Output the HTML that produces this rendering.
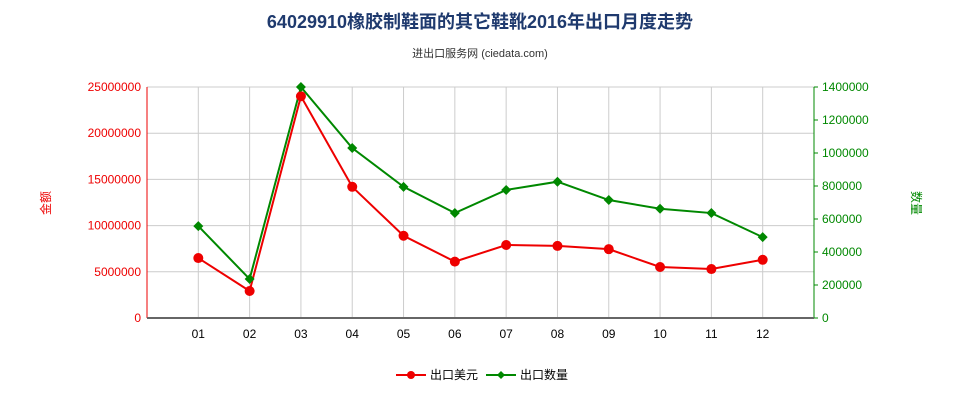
<!DOCTYPE html>
<html><head><meta charset="utf-8"><style>
body{margin:0;background:#fff;font-family:"Liberation Sans","Noto Sans CJK SC",sans-serif}
</style></head><body>
<svg width="960" height="400" xmlns="http://www.w3.org/2000/svg" font-family="Liberation Sans, Noto Sans CJK SC, sans-serif">
<text x="480" y="28" text-anchor="middle" font-size="18" font-weight="bold" fill="#1f3a6e">64029910橡胶制鞋面的其它鞋靴2016年出口月度走势</text>
<text x="480" y="57" text-anchor="middle" font-size="11" fill="#333">进出口服务网 (ciedata.com)</text>
<g id="grid"></g>
<g id="axes"></g>
<g id="series"></g>
<text x="50" y="203" text-anchor="middle" font-size="12" fill="#e00" transform="rotate(-90 50 203)">金额</text>
<text x="912" y="203" text-anchor="middle" font-size="12" fill="#080" transform="rotate(90 912 203)">数量</text>
<g>
<g><line x1="396" y1="375" x2="426" y2="375" stroke="#e00" stroke-width="2"/><circle cx="411" cy="375" r="4" fill="#e00"/><text x="430" y="379" font-size="12" fill="#000">出口美元</text></g>
<g><line x1="486" y1="375" x2="516" y2="375" stroke="#080" stroke-width="2"/><path d="M501 371 L505 375 L501 379 L497 375Z" fill="#080"/><text x="520" y="379" font-size="12" fill="#000">出口数量</text></g>
</g>
</svg>
<script>
const categories=["01","02","03","04","05","06","07","08","09","10","11","12"];
const usdValues=[6490000,2920000,24000000,14200000,8900000,6100000,7900000,7800000,7450000,5520000,5300000,6300000];
const qtyValues=[557000,236000,1400000,1030000,795000,636000,776000,826000,715000,662000,636000,490000];
const leftTicks=[0,5000000,10000000,15000000,20000000,25000000];
const rightTicks=[0,200000,400000,600000,800000,1000000,1200000,1400000];
const NS="http://www.w3.org/2000/svg";
const L=147,R=814,T=87,B=318,step=(R-L)/13;
const xs=i=>L+(i+1)*step;
const yl=v=>B-v/25000000*(B-T);
const yr=v=>B-v/1400000*(B-T);
function mk(tag,attrs,parent,text){const e=document.createElementNS(NS,tag);for(const k in attrs)e.setAttribute(k,attrs[k]);if(text!==undefined)e.textContent=text;document.getElementById(parent).appendChild(e);return e;}
leftTicks.forEach(v=>{
 const g=mk("line",{x1:L,x2:R,y1:yl(v),y2:yl(v),stroke:"#ccc"},"grid");
 
 
 const t=mk("text",{x:L-6,y:yl(v)+4,"text-anchor":"end","font-size":12,fill:"#e00"},"axes",String(v));
 
 
});
rightTicks.forEach(v=>{
 const t=mk("text",{x:R+8,y:yr(v)+4,"font-size":12,fill:"#080"},"axes",String(v));
 
 
 const k=mk("line",{x1:R,x2:R+4,y1:yr(v),y2:yr(v),stroke:"#080"},"axes");
 
 
});
categories.forEach((c,i)=>{
 const g=mk("line",{x1:xs(i),x2:xs(i),y1:T,y2:B,stroke:"#ccc"},"grid");
 
 
 const t=mk("text",{x:xs(i),y:B+20,"text-anchor":"middle","font-size":12,fill:"#000"},"axes",c);
 
 
});
const la=mk("line",{x1:L,x2:L,y1:T,y2:B,stroke:"#e00"},"axes");


const ra=mk("line",{x1:R,x2:R,y1:T,y2:B,stroke:"#080"},"axes");


const ba=mk("line",{x1:L,x2:R,y1:B,y2:B,stroke:"#666","stroke-width":2},"axes");


const p1=mk("polyline",{points:usdValues.map((v,i)=>xs(i)+","+yl(v)).join(" "),fill:"none",stroke:"#e00","stroke-width":2},"series");


const p2=mk("polyline",{points:qtyValues.map((v,i)=>xs(i)+","+yr(v)).join(" "),fill:"none",stroke:"#080","stroke-width":2},"series");


usdValues.forEach((v,i)=>{
 const c=mk("circle",{cx:xs(i),cy:yl(v),r:5,fill:"#e00"},"series");
 
 
});
qtyValues.forEach((v,i)=>{
 const x=xs(i),y=yr(v);
 const d=mk("path",{d:`M${x} ${y-5}L${x+5} ${y}L${x} ${y+5}L${x-5} ${y}Z`,fill:"#080"},"series");
 
 
});
</script>
</body></html>
